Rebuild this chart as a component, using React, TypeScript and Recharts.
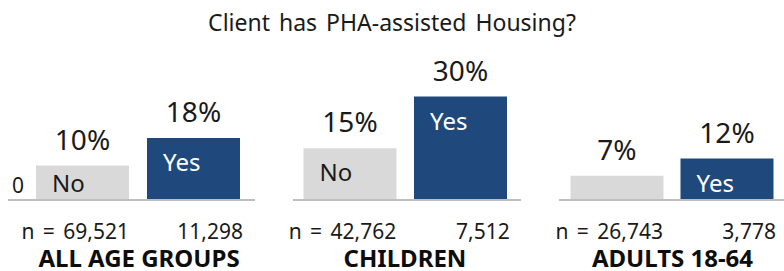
import React from "react";
import { BarChart, Bar, XAxis, YAxis, LabelList, Cell } from "recharts";

// answer categories and the three age groups
const answers = ["No", "Yes"];
const groups = ["ALL AGE GROUPS", "CHILDREN", "ADULTS 18-64"];
// percent of clients with PHA-assisted housing
const noPct = [10, 15, 7];
const yesPct = [18, 30, 12];
// sample sizes per bar
const noCount = [69521, 42762, 26743];
const yesCount = [11298, 7512, 3778];

const title = "Client has PHA-assisted Housing?";
const colors = ["#d9d9d9", "#1f497d"];
const BAR = 93;
const FONT = '"Noto Sans", "DejaVu Sans", sans-serif';

// where each little chart sits on the page
const panels = [
  { left: 0, width: 270, marginLeft: 8, marginRight: 15, pad: { left: 19, right: 6 }, zero: true, shift: 4 },
  { left: 270, width: 275, marginLeft: 23, marginRight: 24, pad: { left: 1.5, right: 5.5 }, zero: false, shift: -2.5 },
  { left: 545, width: 239, marginLeft: 14, marginRight: 0, pad: { left: 2.5, right: 2.5 }, zero: false, shift: 8 },
];

const fmt = (n: number) => n.toLocaleString("en-US");

const InnerLabel = (props: any) => {
  const { x, y, height, value, index } = props;
  if (height < 30) return null;
  const dy = Math.min(33, height - 8);
  return (
    <text x={x + 16} y={y + dy} fill={index === 1 ? "#ffffff" : "#1a1a1a"} fontSize={24}>
      {value}
    </text>
  );
};

function Panel({ g }: { g: number }) {
  const p = panels[g];
  const data = answers.map((a, i) => ({
    answer: a,
    pct: i === 0 ? noPct[g] : yesPct[g],
    n: i === 0 ? noCount[g] : yesCount[g],
  }));

  const CountTick = (t: any) => {
    const i = t.index;
    const label = i === 0 ? `n = ${fmt(data[0].n)}` : fmt(data[1].n);
    return (
      <text
        x={t.x + BAR / 2 + (i === 1 ? 3 : 0)}
        y={t.y + 31}
        textAnchor="end"
        fontSize={21}
        fill="#1a1a1a"
        style={{ wordSpacing: 3 }}
      >
        {label}
      </text>
    );
  };

  const ZeroTick = (t: any) => (
    <text x={t.x} y={t.y - 7} textAnchor="start" fill="#1a1a1a" style={{ fontSize: 21 }}>
      {t.payload.value}
    </text>
  );

  return (
    <div style={{ position: "absolute", left: p.left, top: 0, width: p.width, height: 271 }}>
      <BarChart
        width={p.width}
        height={271}
        data={data}
        margin={{ top: 96.5, bottom: 0, left: p.marginLeft, right: p.marginRight }}
      >
        <XAxis
          dataKey="answer"
          height={71}
          padding={p.pad}
          axisLine={{ stroke: "#bfbfbf", strokeWidth: 2 }}
          tickLine={false}
          tick={<CountTick />}
          interval={0}
        />
        {p.zero ? (
          <YAxis
            domain={[0, 30]}
            ticks={[0]}
            mirror
            tickSize={0}
            tickMargin={4}
            axisLine={false}
            tickLine={false}
            tick={<ZeroTick />}
          />
        ) : (
          <YAxis domain={[0, 30]} hide />
        )}
        <Bar dataKey="pct" barSize={BAR} isAnimationActive={false}>
          {data.map((d, i) => (
            <Cell key={d.answer} fill={colors[i]} />
          ))}
          <LabelList dataKey="pct" position="top" offset={16} formatter={(v: any) => `${v}%`} fontSize={28} fill="#1a1a1a" />
          <LabelList dataKey="answer" content={<InnerLabel />} />
        </Bar>
      </BarChart>
      <div
        style={{
          position: "absolute",
          left: 0,
          width: "100%",
          top: 246,
          height: 24,
          lineHeight: "24px",
          textAlign: "center",
          fontWeight: "bold",
          fontSize: 24,
          color: "#0d0d0d",
          whiteSpace: "nowrap",
        }}
      >
        <span style={{ position: "relative", left: p.shift }}>{groups[g]}</span>
      </div>
    </div>
  );
}

export default function App() {
  return (
    <div
      style={{
        position: "absolute",
        left: 0,
        top: 0,
        width: 784,
        height: 271,
        background: "#fff",
        fontFamily: FONT,
        overflow: "hidden",
      }}
    >
      <div
        style={{
          position: "absolute",
          left: 0,
          width: 784,
          top: 10,
          height: 24,
          lineHeight: "24px",
          textAlign: "center",
          fontSize: 23,
          color: "#1a1a1a",
          wordSpacing: 3,
        }}
      >
        {title}
      </div>
      {groups.map((_, g) => (
        <Panel key={g} g={g} />
      ))}
    </div>
  );
}
